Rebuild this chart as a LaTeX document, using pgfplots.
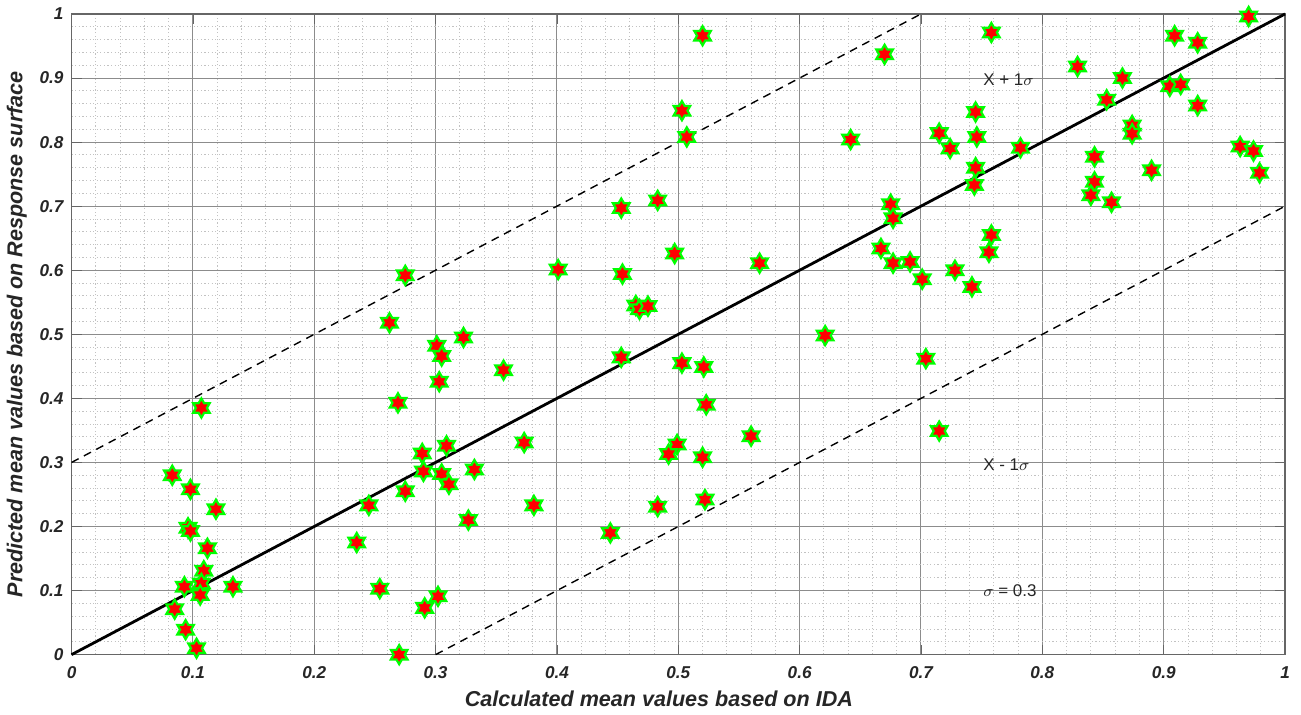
\documentclass[border=0pt]{standalone}
\usepackage{fontspec}
\setmainfont{Liberation Sans}
\usepackage{pgfplots}
\pgfplotsset{compat=1.18}
\definecolor{mgreen}{RGB}{0,255,0}
\definecolor{mred}{RGB}{255,0,0}
\pgfdeclareplotmark{hexagram}{%
 \pgfpathmoveto{\pgfpointpolar{90}{\pgfplotmarksize}}%
 \pgfpathlineto{\pgfpointpolar{120}{0.57735\pgfplotmarksize}}%
 \pgfpathlineto{\pgfpointpolar{150}{\pgfplotmarksize}}%
 \pgfpathlineto{\pgfpointpolar{180}{0.57735\pgfplotmarksize}}%
 \pgfpathlineto{\pgfpointpolar{210}{\pgfplotmarksize}}%
 \pgfpathlineto{\pgfpointpolar{240}{0.57735\pgfplotmarksize}}%
 \pgfpathlineto{\pgfpointpolar{270}{\pgfplotmarksize}}%
 \pgfpathlineto{\pgfpointpolar{300}{0.57735\pgfplotmarksize}}%
 \pgfpathlineto{\pgfpointpolar{330}{\pgfplotmarksize}}%
 \pgfpathlineto{\pgfpointpolar{0}{0.57735\pgfplotmarksize}}%
 \pgfpathlineto{\pgfpointpolar{30}{\pgfplotmarksize}}%
 \pgfpathlineto{\pgfpointpolar{60}{0.57735\pgfplotmarksize}}%
 \pgfpathclose
 \pgfusepathqfillstroke}
\pgfplotstableread{
x y
0.083 0.280
0.098 0.258
0.119 0.227
0.096 0.198
0.098 0.193
0.112 0.166
0.109 0.131
0.107 0.111
0.093 0.106
0.106 0.093
0.133 0.106
0.085 0.071
0.094 0.039
0.103 0.010
0.107 0.385
0.235 0.175
0.245 0.233
0.254 0.103
0.269 0.393
0.270 0.000
0.275 0.255
0.289 0.314
0.290 0.286
0.291 0.073
0.302 0.091
0.305 0.282
0.309 0.326
0.311 0.266
0.327 0.210
0.332 0.289
0.301 0.482
0.305 0.466
0.303 0.426
0.323 0.495
0.275 0.592
0.262 0.518
0.520 0.966
0.503 0.849
0.507 0.808
0.642 0.804
0.483 0.709
0.453 0.697
0.497 0.626
0.401 0.601
0.567 0.611
0.454 0.594
0.465 0.545
0.468 0.539
0.475 0.544
0.621 0.498
0.453 0.464
0.356 0.444
0.503 0.455
0.521 0.449
0.523 0.390
0.560 0.341
0.373 0.331
0.499 0.328
0.492 0.313
0.520 0.308
0.381 0.233
0.483 0.231
0.522 0.242
0.444 0.190
0.675 0.703
0.677 0.681
0.667 0.634
0.677 0.611
0.691 0.613
0.701 0.586
0.704 0.462
0.715 0.349
0.745 0.760
0.744 0.733
0.843 0.738
0.840 0.717
0.857 0.706
0.890 0.756
0.979 0.752
0.758 0.655
0.756 0.628
0.728 0.600
0.742 0.574
0.758 0.971
0.970 0.996
0.909 0.966
0.928 0.955
0.829 0.918
0.866 0.900
0.853 0.866
0.905 0.887
0.914 0.890
0.928 0.857
0.745 0.847
0.715 0.814
0.724 0.790
0.746 0.808
0.782 0.791
0.874 0.826
0.874 0.813
0.843 0.777
0.963 0.793
0.974 0.786
0.670 0.937
}\datatable
\begin{document}
\begin{tikzpicture}
\begin{axis}[
 scale only axis, width=608pt, height=321pt,
 xmin=0, xmax=1, ymin=0, ymax=1,
 xtick={0,0.1,0.2,0.3,0.4,0.5,0.6,0.7,0.8,0.9,1},
 ytick={0,0.1,0.2,0.3,0.4,0.5,0.6,0.7,0.8,0.9,1},
 minor tick num=4,
 grid=both,
 major grid style={black!45, line width=0.5pt},
 minor grid style={black!24, dash pattern=on 0.6pt off 1.2pt, line width=0.45pt},
 tick align=inside, major tick length=5pt, minor tick length=0pt,
 tick style={black!60},
 axis line style={black!60, line width=0.6pt},
 /pgf/number format/assume math mode=true,
 ticklabel style={font=\fontsize{8.6}{10}\selectfont\bfseries\itshape, text=black!85},
 xticklabel style={yshift=-2.5pt},
 yticklabel style={xshift=-0.5pt},
 xlabel={Calculated mean values based on IDA},
 ylabel={Predicted mean values based on Response surface},
 label style={font=\fontsize{10.8}{13}\selectfont\bfseries\itshape, text=black!85},
 xlabel style={at={(axis description cs:0.484,-0.081)}, anchor=base},
 ylabel style={at={(axis description cs:-0.0452,0.5)}, anchor=center},
 clip=false,
]
\addplot[black, line width=1.4pt] coordinates {(0,0) (1,1)};
\addplot[black, line width=0.7pt, dash pattern=on 4pt off 3pt] coordinates {(0,0.3) (0.7,1)};
\addplot[black, line width=0.7pt, dash pattern=on 4pt off 3pt] coordinates {(0.3,0) (1,0.7)};
\addplot[only marks, mark=hexagram, mark size=4.8pt, mark options={fill=mred, draw=mgreen, line width=1.1pt}] table[x=x,y=y] {\datatable};
\node[anchor=west, font=\fontsize{8.5}{10}\selectfont, text=black!85, inner sep=0pt] at (axis cs:0.751,0.897) {X + 1$\sigma$};
\node[anchor=west, font=\fontsize{8.5}{10}\selectfont, text=black!85, inner sep=0pt] at (axis cs:0.751,0.297) {X - 1$\sigma$};
\node[anchor=west, font=\fontsize{8.5}{10}\selectfont, text=black!85, inner sep=0pt] at (axis cs:0.751,0.0997) {$\sigma$ = 0.3};
\end{axis}
\path (current axis.south west) ++(-34.5pt,-30pt) -- ++(0.01pt,0);
\path (current axis.north east) ++(8pt,7pt) -- ++(-0.01pt,0);
\end{tikzpicture}
\end{document}
